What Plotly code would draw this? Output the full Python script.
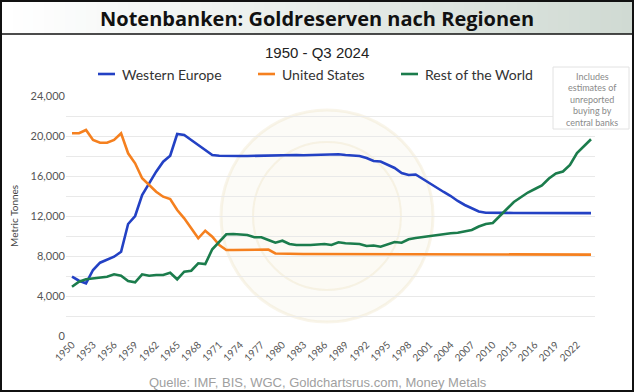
import plotly.graph_objects as go

years = list(range(1950, 2025))

western_europe = [
    5930, 5530, 5270, 6600, 7330, 7600, 7930, 8430, 11200, 12000,
    14100, 15270, 16430, 17430, 18030, 20200, 20100, 19600, 19100, 18600,
    18100, 18030, 18000, 18000, 18000, 18000, 18020, 18030, 18050, 18070,
    18100, 18100, 18100, 18080, 18100, 18100, 18100, 18120, 18170, 18100,
    18080, 18000, 17800, 17500, 17450, 17150, 16800, 16300, 16100, 16150,
    15700, 15250, 14800, 14400, 14000, 13500, 13100, 12750, 12450, 12330,
    12300, 12300, 12310, 12300, 12300, 12300, 12300, 12290, 12290, 12290,
    12290, 12290, 12290, 12290, 12290]

united_states = [
    20270, 20270, 20600, 19600, 19330, 19330, 19600, 20270, 18270, 17270,
    15770, 15100, 14430, 13930, 13700, 12600, 11770, 10770, 9770, 10530,
    9930, 9100, 8600, 8600, 8600, 8580, 8580, 8650, 8650, 8250,
    8220, 8210, 8200, 8200, 8200, 8200, 8200, 8190, 8190, 8180,
    8180, 8170, 8170, 8160, 8160, 8150, 8150, 8150, 8150, 8140,
    8140, 8140, 8140, 8140, 8140, 8140, 8140, 8140, 8140, 8140,
    8140, 8140, 8140, 8140, 8140, 8140, 8140, 8140, 8140, 8140,
    8140, 8140, 8140, 8140, 8140]

rest_of_world = [
    4930, 5430, 5670, 5770, 5830, 5930, 6170, 6030, 5500, 5370,
    6170, 6030, 6100, 6100, 6330, 5670, 6430, 6530, 7270, 7200,
    8670, 9430, 10170, 10200, 10150, 10100, 9870, 9870, 9600, 9330,
    9530, 9200, 9100, 9080, 9100, 9150, 9200, 9100, 9370, 9280,
    9250, 9200, 9000, 9050, 8930, 9200, 9400, 9330, 9670, 9800,
    9900, 10030, 10100, 10200, 10270, 10330, 10450, 10600, 10950, 11200,
    11300, 11950, 12700, 13400, 13900, 14350, 14700, 15050, 15750, 16250,
    16450, 17100, 18300, 19000, 19670]

series_names = ["Western Europe", "United States", "Rest of the World"]
series_values = [western_europe, united_states, rest_of_world]
series_colors = ["#2341c4", "#f5801f", "#1b7c4c"]

x_tick_labels = [str(y) for y in range(1950, 2023, 3)]
y_tick_values = list(range(0, 24001, 4000))

title_text = "Notenbanken: Goldreserven nach Regionen"
subtitle_text = "1950 - Q3 2024"
note_lines = ["Includes", "estimates of", "unreported", "buying by", "central banks"]
source_text = "Quelle: IMF, BIS, WGC, Goldchartsrus.com, Money Metals"
y_title = "Metric Tonnes"

W, H = 634, 392
L, R, T, B = 66, 39, 96, 56
PW, PH = W - L - R, H - T - B


def px(x):
    return (x - L) / PW


def py(y):
    return (H - B - y) / PH


fig = go.Figure()
for name, vals, col in zip(series_names, series_values, series_colors):
    fig.add_trace(go.Scatter(x=years, y=vals, mode="lines", name=name,
                             line=dict(color=col, width=2.6), showlegend=False,
                             hoverinfo="skip"))

shapes = []
annotations = []

# watermark (very faint)
cx, cy, rr = 327, 216, 106
shapes.append(dict(type="circle", xref="paper", yref="paper", layer="below",
                   x0=px(cx - rr), x1=px(cx + rr), y0=py(cy + rr), y1=py(cy - rr),
                   line=dict(color="rgba(230,215,170,0.25)", width=3),
                   fillcolor="rgba(245,240,225,0.25)"))
rr2 = 74
shapes.append(dict(type="circle", xref="paper", yref="paper", layer="below",
                   x0=px(cx - rr2), x1=px(cx + rr2), y0=py(cy + rr2), y1=py(cy - rr2),
                   line=dict(color="rgba(230,215,170,0.25)", width=2),
                   fillcolor="rgba(252,250,240,0.4)"))

# header gradient
n = 60
x0h, x1h = 2, 632
for i in range(n):
    t = i / (n - 1)
    r = round(255 + (208 - 255) * t)
    g = round(255 + (218 - 255) * t)
    b = round(255 + (211 - 255) * t)
    shapes.append(dict(type="rect", xref="paper", yref="paper", layer="below",
                       x0=px(x0h + (x1h - x0h) * i / n), x1=px(x0h + (x1h - x0h) * (i + 1) / n + 0.5),
                       y0=py(34), y1=py(1), line=dict(width=0),
                       fillcolor=f"rgb({r},{g},{b})"))
shapes.append(dict(type="line", xref="paper", yref="paper", x0=px(0), x1=px(W),
                   y0=py(34), y1=py(34), line=dict(color="#111", width=1.5)))
# outer border
shapes.append(dict(type="rect", xref="paper", yref="paper", x0=px(1), x1=px(W - 1),
                   y0=py(H - 1), y1=py(1), line=dict(color="#111", width=2)))

annotations.append(dict(text=f"<b>{title_text}</b>", x=px(317), y=py(18), xref="paper", yref="paper",
                        showarrow=False, xanchor="center", yanchor="middle",
                        font=dict(family="Open Sans", size=20, color="#111")))
annotations.append(dict(text=subtitle_text, x=px(317), y=py(52), xref="paper", yref="paper",
                        showarrow=False, xanchor="center", yanchor="middle",
                        font=dict(family="Liberation Sans", size=15, color="#222")))

# legend (manual)
leg_x = [98, 258, 401]
for name, col, lx in zip(series_names, series_colors, leg_x):
    shapes.append(dict(type="line", xref="paper", yref="paper", x0=px(lx), x1=px(lx + 17),
                       y0=py(74), y1=py(74), line=dict(color=col, width=2.6)))
    annotations.append(dict(text=name, x=px(lx + 22), y=py(74), xref="paper", yref="paper",
                            showarrow=False, xanchor="left", yanchor="middle",
                            font=dict(family="Lato", size=14, color="#333")))

# note box
shapes.append(dict(type="rect", xref="paper", yref="paper", x0=px(553), x1=px(629),
                   y0=py(129), y1=py(67), line=dict(color="#e2e2e2", width=1),
                   fillcolor="white"))
for i, ln in enumerate(note_lines):
    annotations.append(dict(text=ln, x=px(592), y=py(76 + i * 11.6), xref="paper", yref="paper",
                            showarrow=False, xanchor="center", yanchor="middle",
                            font=dict(family="Lato", size=9, color="#8a8a8a")))

annotations.append(dict(text=y_title, x=px(14), y=py(216), xref="paper", yref="paper",
                        showarrow=False, textangle=-90, xanchor="center", yanchor="middle",
                        font=dict(family="Lato", size=10, color="#444")))
annotations.append(dict(text=source_text, x=px(318), y=py(382), xref="paper", yref="paper",
                        showarrow=False, xanchor="center", yanchor="middle",
                        font=dict(family="Liberation Sans", size=13, color="#a0a0a0")))

fig.update_layout(
    width=W, height=H, margin=dict(l=L, r=R, t=T, b=B),
    paper_bgcolor="white", plot_bgcolor="rgba(0,0,0,0)",
    shapes=shapes, annotations=annotations, showlegend=False,
    xaxis=dict(range=[1949.145, 2024.57], tickmode="array",
               tickvals=[int(v) for v in x_tick_labels], ticktext=x_tick_labels,
               tickangle=-45, showgrid=False, zeroline=False, showline=False,
               tickfont=dict(family="Lato", size=10, color="#555"), ticks=""),
    yaxis=dict(range=[0, 24000], tickvals=y_tick_values, tickformat=",d",
               showgrid=True, gridcolor="#e9e9e9", gridwidth=1, zeroline=False,
               minor=dict(dtick=2000, showgrid=True, gridcolor="#e9e9e9"),
               tickfont=dict(family="Lato", size=11, color="#555"), ticks="",
               showline=False),
)

fig.write_html("out.html", config={"displayModeBar": False},
               post_script="document.body.style.margin='0';document.body.style.padding='0';document.body.style.overflow='hidden';")
